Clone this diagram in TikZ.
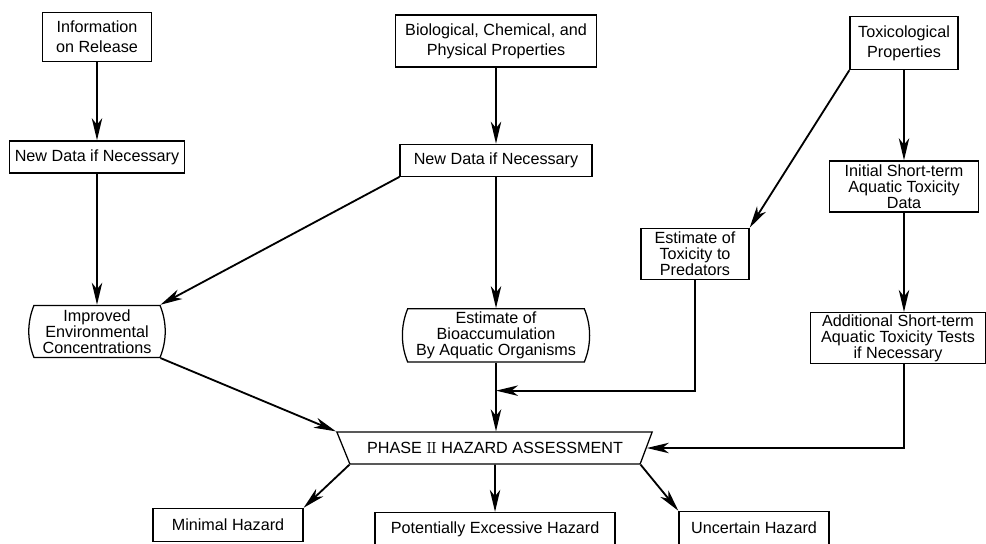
\documentclass[tikz,border=0pt]{standalone}
\usepackage{fontspec}
\setsansfont{Liberation Sans}
\usetikzlibrary{arrows.meta, positioning, shapes.geometric, shapes.misc}

\begin{document}
\begin{tikzpicture}[
    x=0.025cm, y=-0.025cm,
    node distance=1.9cm,
    every node/.style={font=\sffamily\fontsize{11.5}{14}\selectfont, align=center},
    tight/.style={font=\sffamily\fontsize{11.5}{11.5}\selectfont},
    box/.style={draw, line width=0.9pt, inner sep=1pt},
    estimate/.style={draw, line width=0.9pt, rounded rectangle,
                     rounded rectangle arc length=45, inner sep=1pt},
    phasebox/.style={draw, line width=0.9pt, trapezium, trapezium left angle=122,
                     trapezium right angle=120, trapezium stretches body,
                     minimum width=7.88cm, minimum height=0.8cm},
    arrow/.style={-{Stealth[length=5.5mm, width=2.6mm, inset=1.6mm]}, line width=1.3pt}
]
\useasboundingbox (0,0) rectangle (986,544);

% inputs
\node[box, minimum width=2.73cm, minimum height=1.23cm] (info) at (97,37) {Information\\on Release};
\node[box, minimum width=5.03cm, minimum height=1.3cm] (props) at (496,41) {Biological, Chemical, and\\Physical Properties};
\node[box, minimum width=2.7cm, minimum height=1.33cm] (toxprops) at (904,43) {Toxicological\\Properties};

\node[box, below=1.95cm of info, minimum width=4.38cm, minimum height=0.8cm] (newinfo) {New Data if Necessary};
\node[box, below=1.9cm of props, minimum width=4.8cm, minimum height=0.8cm] (newprops) {New Data if Necessary};
\node[box, tight, below=2.25cm of toxprops, minimum width=3.73cm, minimum height=1.28cm] (initial) {Initial Short-term\\Aquatic Toxicity\\Data};

% estimates
\node[estimate, tight, below=3.28cm of newinfo, minimum width=3.48cm, minimum height=1.3cm] (envconc) {Improved\\Environmental\\Concentrations};
\node[estimate, tight, below=3.28cm of newprops, minimum width=4.75cm, minimum height=1.33cm] (bioacc) {Estimate of\\Bioaccumulation\\By Aquatic Organisms};
\node[box, tight, minimum width=2.7cm, minimum height=1.28cm] (predators) at (695,254) {Estimate of\\Toxicity to\\Predators};
\node[box, tight, below=2.48cm of initial, xshift=-0.15cm, minimum width=4.38cm, minimum height=1.28cm] (additional) {Additional Short-term\\Aquatic Toxicity Tests\\if Necessary};

% assessment and outcomes
\node[phasebox] (phase) at (495,448) {PHASE {\rmfamily I\kern-0.6ptI} HAZARD ASSESSMENT};
\node[box, below=1.18cm of phase, minimum width=6cm, minimum height=0.83cm] (excessive) {Potentially Excessive Hazard};
\node[box, minimum width=3.75cm, minimum height=0.83cm] (minimal) at (228,525) {Minimal Hazard};
\node[box, minimum width=3.75cm, minimum height=0.83cm] (uncertain) at (754,528) {Uncertain Hazard};

\path (bioacc.south) ++(0,28) coordinate (join);

\draw[arrow] (info) -- (newinfo);
\draw[arrow] (props) -- (newprops);
\draw[arrow] (toxprops) -- (initial);
\draw[arrow] (toxprops.south west) -- (predators.north east);
\draw[arrow] (newinfo) -- (envconc);
\draw[arrow] (newprops.south west) -- (envconc.north east);
\draw[arrow] (newprops) -- (bioacc);
\draw[arrow] (initial.south) -- (initial.south |- additional.north);
\draw[arrow] (envconc.south east) -- (phase.top left corner);
\draw[arrow] (bioacc.south) -- (bioacc.south |- phase.north);
\draw[arrow] (predators) |- (join);
\draw[arrow] (additional.south -| initial.south) |- (phase.right side);
\draw[arrow] (phase.bottom left corner) -- (minimal.north east);
\draw[arrow] (phase) -- (excessive);
\draw[arrow] (phase.bottom right corner) -- (uncertain.north west);
\end{tikzpicture}
\end{document}
